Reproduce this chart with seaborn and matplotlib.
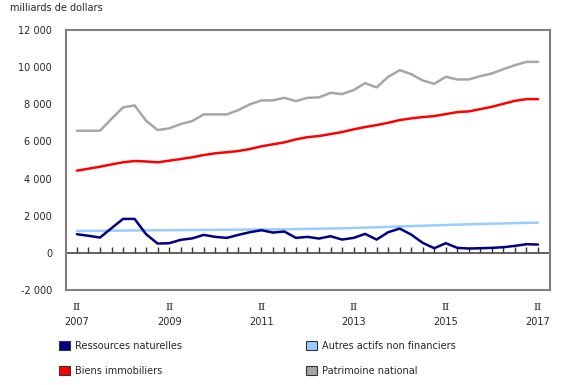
import numpy as np
import pandas as pd
import matplotlib
matplotlib.use("Agg")
import matplotlib.pyplot as plt
from matplotlib.patches import Patch
import seaborn as sns

# ---- data (billions of dollars, quarterly 2007 Q2 .. 2017 Q2) ----
quarters = list(range(41))
ressources = [1004, 920, 824, 1330, 1828, 1828, 1004, 500, 520, 700,
              780, 968, 860, 806, 968, 1111, 1220, 1093, 1147, 806,
              860, 770, 896, 716, 806, 1021, 716, 1111, 1308, 984,
              537, 250, 520, 269, 233, 250, 269, 305, 376, 466, 448]
autres = [1180, 1185, 1190, 1195, 1200, 1205, 1210, 1215, 1220, 1225,
          1230, 1235, 1240, 1245, 1250, 1255, 1260, 1265, 1270, 1280,
          1290, 1300, 1310, 1320, 1340, 1360, 1380, 1400, 1420, 1440,
          1460, 1480, 1500, 1520, 1540, 1555, 1570, 1585, 1600, 1615, 1625]
biens = [4425, 4530, 4640, 4760, 4876, 4946, 4920, 4876, 4962, 5053,
         5145, 5268, 5360, 5420, 5483, 5591, 5736, 5844, 5951, 6112,
         6230, 6290, 6397, 6505, 6650, 6774, 6881, 7005, 7150, 7241,
         7311, 7365, 7473, 7580, 7617, 7741, 7865, 8027, 8188, 8279, 8279]
patrimoine = [6575, 6575, 6575, 7220, 7833, 7940, 7113, 6612, 6704, 6935,
              7096, 7456, 7456, 7456, 7688, 7994, 8209, 8209, 8350, 8172,
              8350, 8370, 8618, 8548, 8763, 9139, 8908, 9478, 9838, 9623,
              9284, 9101, 9478, 9338, 9338, 9516, 9660, 9892, 10107, 10284, 10284]
series_names = ["Patrimoine national", "Biens immobiliers",
                "Autres actifs non financiers", "Ressources naturelles"]
tick_positions = [0, 8, 16, 24, 32, 40]
quarter_labels = ["II", "II", "II", "II", "II", "II"]
year_labels = ["2007", "2009", "2011", "2013", "2015", "2017"]
y_ticks = [-2000, 0, 2000, 4000, 6000, 8000, 10000, 12000]

colors = {"Patrimoine national": "#a6a6a6",
          "Biens immobiliers": "#ff0000",
          "Autres actifs non financiers": "#99ccff",
          "Ressources naturelles": "#000080"}

df = pd.concat([
    pd.DataFrame({"q": quarters, "v": patrimoine, "s": series_names[0]}),
    pd.DataFrame({"q": quarters, "v": biens, "s": series_names[1]}),
    pd.DataFrame({"q": quarters, "v": autres, "s": series_names[2]}),
    pd.DataFrame({"q": quarters, "v": ressources, "s": series_names[3]}),
])

sns.set_style("white")
plt.rcParams["font.family"] = ["DejaVu Sans"]

fig = plt.figure(figsize=(5.8, 3.85), dpi=100)
ax = fig.add_axes([66/580, 1-290/385, (550-66)/580, (290-30)/385])

sns.lineplot(data=df, x="q", y="v", hue="s", palette=colors,
             hue_order=series_names, estimator=None, sort=False,
             linewidth=1.8, legend=False, ax=ax)

ax.set_xlim(-0.95, 41.04)
ax.set_ylim(-2000, 12000)
ax.set_xlabel("")
ax.set_ylabel("")

frame_col = "#808080"
for sp in ax.spines.values():
    sp.set_color(frame_col)
    sp.set_linewidth(1.5)

ax.set_yticks(y_ticks)
ax.set_yticklabels([f"{v:,}".replace(",", " ") for v in y_ticks], fontsize=7)
ax.tick_params(axis="y", direction="out", length=4, width=1, color="#333333", pad=6)

# year labels (main axis) and quarter labels (serif, secondary axis)
ax.set_xticks(tick_positions)
ax.set_xticklabels(year_labels, fontsize=7)
ax.tick_params(axis="x", length=0, pad=19.5)

qax = ax.secondary_xaxis("bottom")
qax.set_xticks(tick_positions)
qax.set_xticklabels(quarter_labels, fontsize=7.5, family="DejaVu Serif")
qax.tick_params(length=0, pad=9)
qax.spines["bottom"].set_visible(False)

# zero line with quarterly ticks
ax.axhline(0, color="#555555", lw=1.3, zorder=1)
sec = ax.secondary_xaxis(2000/14000)
sec.set_xticks(quarters)
sec.set_xticklabels([])
sec.tick_params(direction="in", length=4, width=1, color="#333333")
sec.spines["bottom"].set_visible(False)

fig.text(10/580, 1-8/385, "milliards de dollars", fontsize=7, va="center", ha="left")

labels = ["Ressources naturelles", "Biens immobiliers",
          "Autres actifs non financiers", "Patrimoine national"]
handles = [Patch(facecolor=colors[n], edgecolor="#333333", linewidth=0.8) for n in labels]
leg = fig.legend(handles, labels, ncol=2, loc="upper left",
                 bbox_to_anchor=(59/580, 1-341/385), frameon=False,
                 fontsize=7, handlelength=1.1, handleheight=1.1,
                 handletextpad=0.5, columnspacing=12.8, labelspacing=1.5,
                 borderpad=0, borderaxespad=0)

fig.savefig("out.png", dpi=100)
